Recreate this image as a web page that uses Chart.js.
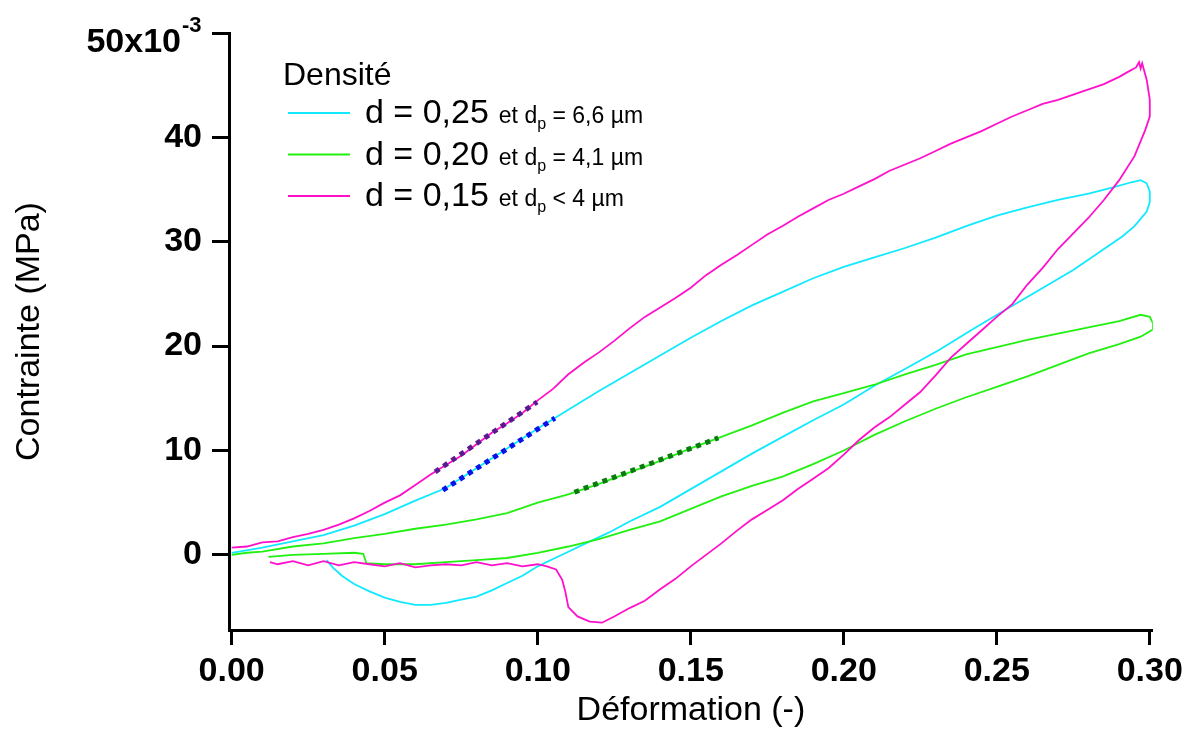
<!DOCTYPE html>
<html>
<head>
<meta charset="utf-8">
<script src="https://cdn.jsdelivr.net/npm/chart.js@4/dist/chart.umd.min.js"></script>
<style>
  body { margin: 0; background: #fff; }
  canvas { display: block; }
</style>
</head>
<body>
<canvas id="myChart" width="1189" height="733"></canvas>
<script>
// legend texts
var legendTitle = 'Densité';
var seriesLabels = ['d = 0,25', 'd = 0,20', 'd = 0,15'];
var seriesNotes = [' = 6,6 µm', ' = 4,1 µm', ' < 4 µm'];
var seriesColors = ['#11e9ff', '#22f011', '#ff11cc'];

// tick values
var xTicks = [0, 0.05, 0.10, 0.15, 0.20, 0.25, 0.30];
var yTicks = [0, 10, 20, 30, 40, 50];

// d = 0,25 (cyan)
var cyanX = [0.000,0.010,0.020,0.030,0.040,0.050,0.060,0.070,0.080,0.090,0.100,0.110,0.120,0.130,0.140,0.150,0.160,0.170,0.180,0.190,0.200,0.210,0.220,0.230,0.240,0.250,0.260,0.270,0.280,
  0.288,0.294,0.297,0.299,0.300,0.300,
  0.299,0.295,0.291,0.283,0.275,0.264,0.253,0.242,0.231,0.220,0.210,0.200,
  0.190,0.180,0.170,0.160,0.150,0.140,0.130,0.123,0.115,0.110,0.105,0.100,
  0.095,0.090,0.085,0.080,0.075,0.070,0.065,0.060,0.055,0.050,0.045,0.040,0.036,0.033,0.031];
var cyanY = [0.2,0.7,1.3,1.9,2.8,3.9,5.2,6.4,8.3,10.2,12.1,13.9,15.7,17.4,19.1,20.8,22.4,23.9,25.2,26.5,27.6,28.5,29.4,30.4,31.5,32.5,33.3,34.0,34.6,
  35.2,35.7,35.9,35.6,34.8,33.8,
  32.9,31.5,30.5,28.9,27.3,25.4,23.5,21.6,19.6,17.8,16.2,14.4,
  12.9,11.3,9.7,8.0,6.3,4.6,3.2,2.1,1.0,0.3,-0.4,-1.1,
  -2.0,-2.7,-3.4,-4.0,-4.3,-4.6,-4.8,-4.8,-4.5,-4.1,-3.5,-2.8,-2.0,-1.2,-0.5];

// d = 0,20 (green)
var greenX = [0.000,0.005,0.010,0.020,0.030,0.040,0.050,0.060,0.070,0.080,0.090,0.100,0.110,0.120,0.130,0.140,0.150,0.160,0.170,0.180,0.190,0.200,0.210,0.220,0.230,0.240,0.250,0.260,0.270,0.280,0.290,
  0.297,0.300,0.301,0.301,0.297,
  0.290,0.280,0.270,0.260,0.250,0.240,0.230,0.220,0.210,0.200,0.190,0.180,0.170,0.160,0.150,0.140,0.130,0.120,0.110,0.100,0.090,0.080,0.070,0.060,0.050,
  0.044,0.043,0.040,0.030,0.020,0.012];
var greenY = [0.0,0.2,0.3,0.8,1.1,1.6,2.0,2.5,2.9,3.4,4.0,5.0,5.8,6.8,7.9,9.0,10.2,11.3,12.4,13.6,14.7,15.5,16.3,17.3,18.2,19.2,19.9,20.6,21.2,21.8,22.4,
  23.0,22.8,22.2,21.6,20.9,
  20.2,19.3,18.2,17.1,16.1,15.1,14.0,12.8,11.5,10.0,8.7,7.5,6.6,5.6,4.4,3.2,2.4,1.5,0.8,0.2,-0.3,-0.5,-0.7,-0.9,-0.9,
  -0.8,0.1,0.2,0.1,0.0,-0.2];

// d = 0,15 (magenta)
var magentaX = [0.000,0.005,0.010,0.015,0.020,0.025,0.030,0.035,0.040,0.045,0.050,0.055,0.060,0.065,0.070,0.075,0.080,0.085,0.090,0.095,
  0.100,0.105,0.110,0.115,0.120,0.125,0.130,0.135,0.140,0.145,0.150,0.155,0.160,0.165,0.170,0.175,0.180,0.185,0.190,0.195,
  0.200,0.205,0.210,0.215,0.220,0.225,0.230,0.235,0.240,0.245,0.250,0.255,0.260,0.265,0.270,0.275,0.280,0.285,0.290,
  0.293,0.2955,0.2965,0.297,0.2975,0.299,0.300,0.300,0.2985,0.295,
  0.290,0.285,0.280,0.275,0.270,0.265,0.260,0.255,0.250,0.245,0.240,0.235,0.230,0.225,0.220,0.215,0.210,0.205,0.200,0.195,
  0.190,0.185,0.180,0.175,0.170,0.165,0.160,0.155,0.150,0.145,0.140,0.135,0.130,0.125,0.121,0.117,0.113,0.110,0.109,0.108,
  0.106,0.103,0.100,0.095,0.090,0.085,0.080,0.075,0.070,0.065,0.060,0.055,0.050,0.045,0.040,0.035,0.030,0.025,0.020,0.015,0.0125];
var magentaY = [0.7,0.8,1.2,1.3,1.7,2.0,2.4,2.9,3.5,4.2,5.0,5.7,6.7,7.7,8.6,9.5,10.6,11.7,12.6,13.6,
  14.8,15.9,17.3,18.4,19.4,20.5,21.7,22.8,23.7,24.6,25.6,26.8,27.8,28.7,29.7,30.7,31.5,32.4,33.2,34.0,
  34.6,35.3,36.0,36.8,37.4,38.0,38.7,39.4,40.0,40.6,41.3,42.0,42.6,43.2,43.6,44.1,44.6,45.1,45.8,
  46.3,46.7,47.2,46.6,47.1,45.5,43.6,42.0,40.7,38.2,
  35.9,34.0,32.3,30.8,29.3,27.5,25.9,24.0,22.8,21.5,20.2,18.9,17.2,15.6,14.4,13.2,12.2,11.0,9.6,8.3,
  7.3,6.3,5.2,4.3,3.4,2.3,1.1,0.0,-1.1,-2.3,-3.3,-4.4,-5.1,-5.9,-6.5,-6.4,-5.9,-5.0,-3.5,-2.4,
  -1.4,-1.1,-0.9,-1.1,-0.8,-1.0,-0.7,-1.0,-0.9,-1.0,-1.2,-0.8,-1.1,-0.9,-0.7,-1.0,-0.6,-1.0,-0.6,-0.9,-0.7];

// linear fits drawn dashed
var fitCyanX = [0.069, 0.1056];
var fitCyanY = [6.2, 13.1];
var fitGreenX = [0.112, 0.159];
var fitGreenY = [6.0, 11.2];
var fitMagentaX = [0.0665, 0.0998];
var fitMagentaY = [7.95, 14.65];

var FONT = "'Liberation Sans', Arial, sans-serif";

function toPts(xs, ys) {
  return xs.map(function(x, i){ return {x: x, y: ys[i]}; });
}

function curve(label, xs, ys, color, order) {
  return { label: label, data: toPts(xs, ys), borderColor: color, backgroundColor: color,
           borderWidth: 1.8, showLine: true, pointRadius: 0, tension: 0, order: order };
}
function fit(xs, ys, color) {
  return { label: '', data: toPts(xs, ys), borderColor: color, borderWidth: 5,
           borderDash: [5, 5], showLine: true, pointRadius: 0, order: 0 };
}

var legendPlugin = {
  id: 'densiteLegend',
  afterDraw: function(chart) {
    var ctx = chart.ctx;
    ctx.save();
    ctx.fillStyle = '#000';
    ctx.textBaseline = 'alphabetic';
    ctx.textAlign = 'left';
    ctx.font = '32px ' + FONT;
    ctx.fillText(legendTitle, 283, 85);
    for (var i = 0; i < seriesLabels.length; i++) {
      var ly = 113 + i * 41.5;
      ctx.strokeStyle = seriesColors[i];
      ctx.lineWidth = 2;
      ctx.beginPath();
      ctx.moveTo(288, ly);
      ctx.lineTo(350, ly);
      ctx.stroke();
      var x = 365, base = ly + 10;
      ctx.font = '34px ' + FONT;
      ctx.fillText(seriesLabels[i], x, base);
      x += ctx.measureText(seriesLabels[i]).width + 10;
      ctx.font = '23px ' + FONT;
      ctx.fillText('et d', x, base);
      x += ctx.measureText('et d').width;
      ctx.font = '16px ' + FONT;
      ctx.fillText('p', x, base + 6);
      x += ctx.measureText('p').width;
      ctx.font = '23px ' + FONT;
      ctx.fillText(seriesNotes[i], x, base);
    }
    // top tick label with exponent
    var py = chart.scales.y.getPixelForValue(50);
    ctx.font = 'bold 34px ' + FONT;
    ctx.textAlign = 'right';
    ctx.fillText('50x10', 181, py + 19);
    ctx.font = 'bold 22px ' + FONT;
    ctx.textAlign = 'left';
    ctx.fillText('-3', 182, py - 1);
    ctx.restore();
  }
};

var ctx = document.getElementById('myChart').getContext('2d');
var chart = new Chart(ctx, {
  type: 'scatter',
  data: {
    datasets: [
      fit(fitMagentaX, fitMagentaY, '#5a1a8e'),
      fit(fitCyanX, fitCyanY, '#0a10e8'),
      fit(fitGreenX, fitGreenY, '#0a7a10'),
      curve(seriesLabels[2], magentaX, magentaY, seriesColors[2], 1),
      curve(seriesLabels[1], greenX, greenY, seriesColors[1], 2),
      curve(seriesLabels[0], cyanX, cyanY, seriesColors[0], 3)
    ]
  },
  options: {
    responsive: false,
    animation: false,
    devicePixelRatio: 1,
    layout: { padding: { top: 33, right: 36, left: 0, bottom: 0 } },
    plugins: { legend: { display: false }, tooltip: { enabled: false } },
    scales: {
      x: {
        type: 'linear', min: -0.00088, max: 0.30098,
        afterBuildTicks: function(s){ s.ticks = xTicks.map(function(v){ return {value: v}; }); },
        afterFit: function(s){ s.height = 103; },
        ticks: { callback: function(v){ return v.toFixed(2); }, autoSkip: false, maxRotation: 0,
                 color: '#000', padding: 6, font: { family: FONT, size: 34, weight: 'bold' } },
        grid: { drawOnChartArea: false, drawTicks: true, tickLength: 15, tickWidth: 3, color: '#000' },
        border: { display: true, color: '#000', width: 3 },
        title: { display: true, text: 'Déformation (-)', color: '#000',
                 font: { family: FONT, size: 34, lineHeight: 1.2 }, padding: { top: 0, bottom: 2 } }
      },
      y: {
        type: 'linear', min: -7.2, max: 50,
        afterBuildTicks: function(s){ s.ticks = yTicks.map(function(v){ return {value: v}; }); },
        afterFit: function(s){ s.width = 229; },
        ticks: { callback: function(v){ return v === 50 ? '' : String(v); }, autoSkip: false,
                 color: '#000', padding: 10, font: { family: FONT, size: 34, weight: 'bold' } },
        grid: { drawOnChartArea: false, drawTicks: true, tickLength: 17, tickWidth: 3, color: '#000' },
        border: { display: true, color: '#000', width: 3 },
        title: { display: true, text: 'Contrainte (MPa)', color: '#000',
                 font: { family: FONT, size: 34, lineHeight: 1.2 }, padding: { top: 9, bottom: 0 } }
      }
    }
  },
  plugins: [legendPlugin]
});
</script>
</body>
</html>
